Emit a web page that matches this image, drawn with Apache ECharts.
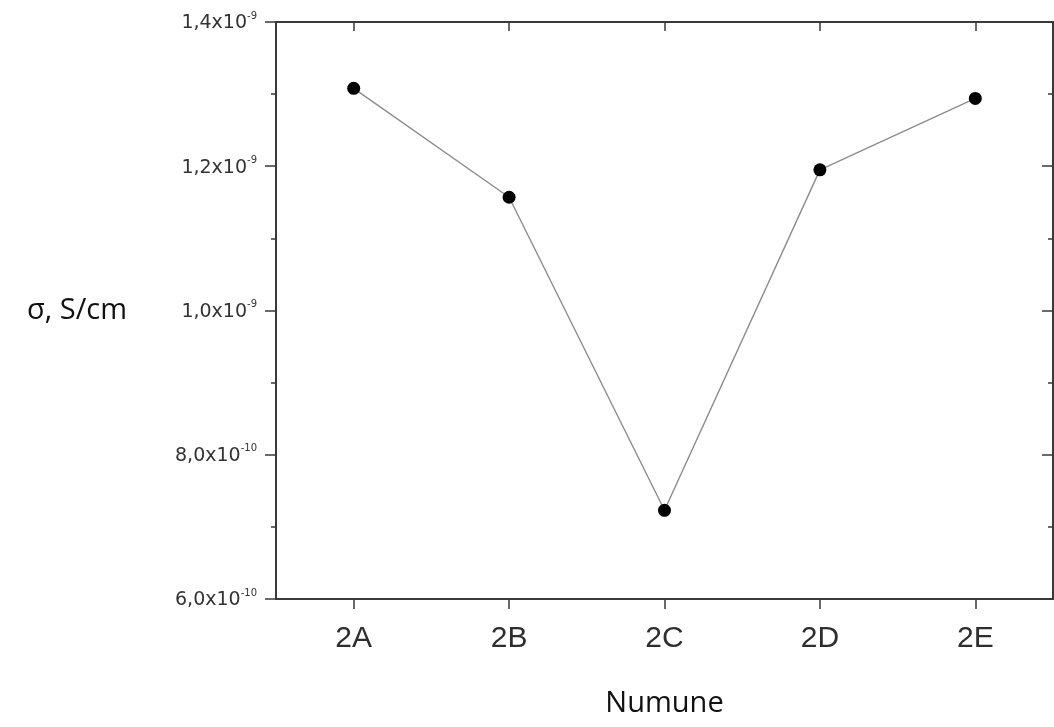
<!DOCTYPE html>
<html>
<head>
<meta charset="utf-8">
<script src="https://cdn.jsdelivr.net/npm/echarts@6/dist/echarts.min.js"></script>
<style>html,body{margin:0;padding:0;background:#fff;}#c{width:1054px;height:727px;}</style>
</head>
<body>
<div id="c"></div>
<script>
var categories = ['2A', '2B', '2C', '2D', '2E'];
var sigmaValues = [1.308e-9, 1.157e-9, 7.23e-10, 1.195e-9, 1.294e-9];
var yTickValues = [6e-10, 8e-10, 1.0e-9, 1.2e-9, 1.4e-9];
var yTickMantissa = ['6,0x10', '8,0x10', '1,0x10', '1,2x10', '1,4x10'];
var yTickExponent = ['-10', '-10', '-9', '-9', '-9'];
var yAxisTitle = 'σ, S/cm';
var xAxisTitle = 'Numune';

var axisColor = '#3a3a3a';
function yLabel(v) {
  var best = 0, d = Infinity;
  for (var i = 0; i < yTickValues.length; i++) {
    var dd = Math.abs(yTickValues[i] - v);
    if (dd < d) { d = dd; best = i; }
  }
  return '{m|' + yTickMantissa[best] + '}{e|' + yTickExponent[best] + '}';
}
var chart = echarts.init(document.getElementById('c'));
chart.setOption({
  animation: false,
  backgroundColor: '#fff',
  grid: { left: 276, top: 22, right: 1, bottom: 128, containLabel: false },
  xAxis: [{
    type: 'category', data: categories, position: 'bottom',
    axisLine: { lineStyle: { color: axisColor, width: 2 } },
    axisTick: { show: true, interval: 0, alignWithLabel: true, length: 10, lineStyle: { color: axisColor, width: 1.5 } },
    axisLabel: { fontFamily: 'Liberation Sans', fontSize: 30, color: '#2e2e2e', margin: 25 },
    name: xAxisTitle, nameLocation: 'middle', nameGap: 90,
    nameTextStyle: { fontFamily: 'Open Sans', fontSize: 29, color: '#111' },
    splitLine: { show: false }
  }, {
    type: 'category', data: categories, position: 'top',
    axisLine: { show: true, onZero: false, lineStyle: { color: axisColor, width: 2 } },
    axisTick: { show: true, interval: 0, alignWithLabel: true, inside: true, length: 9, lineStyle: { color: axisColor, width: 1.5 } },
    axisLabel: { show: false }, splitLine: { show: false }
  }],
  yAxis: [{
    type: 'value', position: 'left', min: 6e-10, max: 1.4e-9, interval: 2e-10,
    axisLine: { show: true, lineStyle: { color: axisColor, width: 2 } },
    axisTick: { show: true, length: 11, lineStyle: { color: axisColor, width: 1.5 } },
    minorTick: { show: true, splitNumber: 2, length: 5, lineStyle: { color: axisColor, width: 1.5 } },
    splitLine: { show: false },
    axisLabel: {
      margin: 19, formatter: yLabel,
      rich: {
        m: { fontFamily: 'DejaVu Sans', fontSize: 19, color: '#333', lineHeight: 22, verticalAlign: 'bottom' },
        e: { fontFamily: 'DejaVu Sans', fontSize: 10, color: '#333', lineHeight: 22, verticalAlign: 'top' }
      }
    },
    name: yAxisTitle, nameLocation: 'middle', nameRotate: 0, nameGap: 149,
    nameTextStyle: { fontFamily: 'Open Sans', fontSize: 29, color: '#111', align: 'right' }
  }, {
    type: 'value', position: 'right', min: 6e-10, max: 1.4e-9, interval: 2e-10,
    axisLine: { show: true, onZero: false, lineStyle: { color: axisColor, width: 2 } },
    axisTick: { show: true, inside: true, length: 11, lineStyle: { color: axisColor, width: 1.5 } },
    minorTick: { show: true, splitNumber: 2, length: 5, lineStyle: { color: axisColor, width: 1.5 } },
    splitLine: { show: false }, axisLabel: { show: false }
  }],
  series: [{
    type: 'line', xAxisIndex: 0, yAxisIndex: 0,
    data: sigmaValues,
    symbol: 'circle', symbolSize: 13,
    itemStyle: { color: '#000' },
    lineStyle: { color: '#8c8c8c', width: 1.4 }
  }]
});
</script>
</body>
</html>
